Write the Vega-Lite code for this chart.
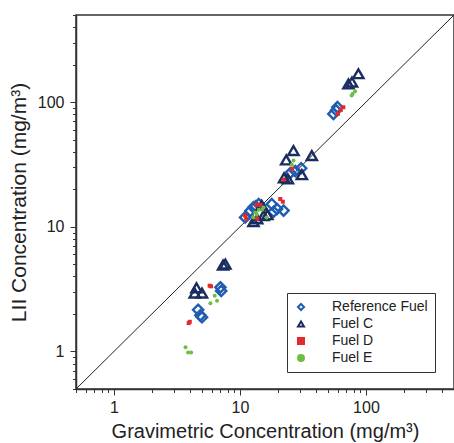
{
  "$schema": "https://vega.github.io/schema/vega-lite/v6.json",
  "width": 378,
  "height": 374,
  "autosize": {"type": "none"},
  "padding": {"left": 76, "top": 15, "right": 0, "bottom": 54},
  "background": "white",
  "config": {
    "view": {"stroke": "#333", "strokeWidth": 1.5},
    "font": "Liberation Sans",
    "axis": {
      "grid": false,
      "domainColor": "#333",
      "domainWidth": 1.5,
      "tickColor": "#333",
      "tickWidth": 1,
      "labelFont": "Liberation Sans",
      "labelFontSize": 16,
      "labelColor": "#222",
      "titleFont": "Liberation Sans",
      "titleFontSize": 20,
      "titleFontWeight": "normal",
      "titleColor": "#222"
    },
    "legend": {
      "title": null,
      "orient": "none",
      "legendX": 211,
      "legendY": 278,
      "strokeColor": "#333",
      "fillColor": "white",
      "padding": 7,
      "labelFont": "Liberation Sans",
      "labelFontSize": 14,
      "labelColor": "#222",
      "labelOffset": 24,
      "rowPadding": 3,
      "symbolStrokeWidth": 2,
      "symbolSize": 36
    }
  },
  "datasets": {
    "pts": [
      {"fuel": "Reference Fuel", "gx": 55.2, "ly": 80.5},
      {"fuel": "Reference Fuel", "gx": 59.4, "ly": 91.2},
      {"fuel": "Reference Fuel", "gx": 58, "ly": 86},
      {"fuel": "Reference Fuel", "gx": 25.1, "ly": 27.0},
      {"fuel": "Reference Fuel", "gx": 30.6, "ly": 29.5},
      {"fuel": "Reference Fuel", "gx": 27.5, "ly": 28},
      {"fuel": "Reference Fuel", "gx": 11.0, "ly": 11.9},
      {"fuel": "Reference Fuel", "gx": 12.1, "ly": 13.4},
      {"fuel": "Reference Fuel", "gx": 12.8, "ly": 14.3},
      {"fuel": "Reference Fuel", "gx": 14.1, "ly": 15.2},
      {"fuel": "Reference Fuel", "gx": 13.3, "ly": 14.6},
      {"fuel": "Reference Fuel", "gx": 17.9, "ly": 15.2},
      {"fuel": "Reference Fuel", "gx": 19.7, "ly": 13.9},
      {"fuel": "Reference Fuel", "gx": 22.2, "ly": 13.5},
      {"fuel": "Reference Fuel", "gx": 18.5, "ly": 13.2},
      {"fuel": "Reference Fuel", "gx": 7.0, "ly": 3.27},
      {"fuel": "Reference Fuel", "gx": 7.1, "ly": 3.06},
      {"fuel": "Reference Fuel", "gx": 4.66, "ly": 2.16},
      {"fuel": "Reference Fuel", "gx": 5.0, "ly": 1.88},
      {"fuel": "Reference Fuel", "gx": 4.85, "ly": 1.95},
      {"fuel": "Fuel C", "gx": 72.6, "ly": 140},
      {"fuel": "Fuel C", "gx": 77.5, "ly": 145},
      {"fuel": "Fuel C", "gx": 87.1, "ly": 169},
      {"fuel": "Fuel C", "gx": 26.6, "ly": 40.9},
      {"fuel": "Fuel C", "gx": 23.3, "ly": 34.4},
      {"fuel": "Fuel C", "gx": 37.2, "ly": 37.3},
      {"fuel": "Fuel C", "gx": 31.0, "ly": 26.2},
      {"fuel": "Fuel C", "gx": 22.4, "ly": 24.7},
      {"fuel": "Fuel C", "gx": 24.0, "ly": 24.2},
      {"fuel": "Fuel C", "gx": 12.8, "ly": 11.0},
      {"fuel": "Fuel C", "gx": 13.7, "ly": 11.6},
      {"fuel": "Fuel C", "gx": 15.4, "ly": 12.3},
      {"fuel": "Fuel C", "gx": 16.5, "ly": 12.5},
      {"fuel": "Fuel C", "gx": 14.9, "ly": 14.9},
      {"fuel": "Fuel C", "gx": 7.35, "ly": 4.93},
      {"fuel": "Fuel C", "gx": 7.66, "ly": 5.02},
      {"fuel": "Fuel C", "gx": 4.52, "ly": 3.24},
      {"fuel": "Fuel C", "gx": 4.38, "ly": 2.94},
      {"fuel": "Fuel C", "gx": 5.0, "ly": 2.94},
      {"fuel": "Fuel D", "gx": 59.8, "ly": 80.5},
      {"fuel": "Fuel D", "gx": 63.1, "ly": 86.7},
      {"fuel": "Fuel D", "gx": 66.2, "ly": 91},
      {"fuel": "Fuel D", "gx": 22.2, "ly": 23.9},
      {"fuel": "Fuel D", "gx": 25.9, "ly": 29.1},
      {"fuel": "Fuel D", "gx": 20.9, "ly": 16.7},
      {"fuel": "Fuel D", "gx": 21.9, "ly": 15.9},
      {"fuel": "Fuel D", "gx": 11.0, "ly": 12.3},
      {"fuel": "Fuel D", "gx": 11.2, "ly": 11.6},
      {"fuel": "Fuel D", "gx": 13.5, "ly": 15.0},
      {"fuel": "Fuel D", "gx": 14.5, "ly": 15.0},
      {"fuel": "Fuel D", "gx": 13.7, "ly": 11.6},
      {"fuel": "Fuel D", "gx": 5.75, "ly": 3.37},
      {"fuel": "Fuel D", "gx": 5.9, "ly": 3.33},
      {"fuel": "Fuel D", "gx": 3.92, "ly": 1.69},
      {"fuel": "Fuel D", "gx": 4.0, "ly": 1.73},
      {"fuel": "Fuel E", "gx": 78.5, "ly": 117},
      {"fuel": "Fuel E", "gx": 82, "ly": 122},
      {"fuel": "Fuel E", "gx": 77, "ly": 113},
      {"fuel": "Fuel E", "gx": 26.6, "ly": 34.0},
      {"fuel": "Fuel E", "gx": 25.8, "ly": 31.4},
      {"fuel": "Fuel E", "gx": 13.2, "ly": 13.0},
      {"fuel": "Fuel E", "gx": 14.1, "ly": 13.7},
      {"fuel": "Fuel E", "gx": 15.0, "ly": 13.7},
      {"fuel": "Fuel E", "gx": 12.8, "ly": 11.9},
      {"fuel": "Fuel E", "gx": 15.4, "ly": 14.3},
      {"fuel": "Fuel E", "gx": 16.3, "ly": 11.9},
      {"fuel": "Fuel E", "gx": 13.6, "ly": 12.5},
      {"fuel": "Fuel E", "gx": 6.31, "ly": 2.80},
      {"fuel": "Fuel E", "gx": 6.58, "ly": 2.55},
      {"fuel": "Fuel E", "gx": 5.83, "ly": 2.44},
      {"fuel": "Fuel E", "gx": 3.70, "ly": 1.08},
      {"fuel": "Fuel E", "gx": 3.88, "ly": 0.98},
      {"fuel": "Fuel E", "gx": 4.1, "ly": 0.98}
    ],
    "diag": [{"gx": 0.5, "ly": 0.5}, {"gx": 500, "ly": 500}]
  },
  "encoding": {
    "x": {
      "field": "gx", "type": "quantitative",
      "scale": {"type": "log", "domain": [0.5, 500], "nice": false},
      "axis": {
        "title": "Gravimetric Concentration (mg/m³)",
        "values": [0.5,0.6,0.7,0.8,0.9,1,2,3,4,5,6,7,8,9,10,20,30,40,50,60,70,80,90,100,200,300,400,500],
        "labelExpr": "datum.value == 1 || datum.value == 10 || datum.value == 100 ? datum.value + '' : ''",
        "tickSize": {"condition": {"test": "datum.value == 1 || datum.value == 10 || datum.value == 100", "value": 6}, "value": 3.5},
        "labelPadding": 4,
        "titlePadding": 6,
        "labelFlush": false,
        "labelOverlap": false
      }
    },
    "y": {
      "field": "ly", "type": "quantitative",
      "scale": {"type": "log", "domain": [0.5, 500], "nice": false},
      "axis": {
        "title": "LII Concentration (mg/m³)",
        "values": [0.5,0.6,0.7,0.8,0.9,1,2,3,4,5,6,7,8,9,10,20,30,40,50,60,70,80,90,100,200,300,400,500],
        "labelExpr": "datum.value == 1 || datum.value == 10 || datum.value == 100 ? datum.value + '' : ''",
        "tickSize": {"condition": {"test": "datum.value == 1 || datum.value == 10 || datum.value == 100", "value": 6}, "value": 3.5},
        "labelPadding": 6,
        "titlePadding": 8,
        "titleFontSize": 21,
        "labelFlush": false,
        "labelOverlap": false
      }
    }
  },
  "layer": [
    {
      "data": {"name": "diag"},
      "mark": {"type": "line", "color": "#222", "strokeWidth": 1, "clip": true},
      "encoding": {}
    },
    {
      "data": {"name": "pts"},
      "transform": [{"filter": "datum.fuel == 'Reference Fuel' || datum.fuel == 'Fuel C'"}],
      "mark": {"type": "point", "filled": false, "opacity": 1, "size": 105, "strokeWidth": 2.4, "clip": true},
      "encoding": {
        "shape": {
          "field": "fuel", "type": "nominal",
          "scale": {"domain": ["Reference Fuel", "Fuel C", "Fuel D", "Fuel E"], "range": ["diamond", "triangle-up", "square", "circle"]},
          "legend": {
            "encode": {
              "symbols": {"update": {
                "size": {"signal": "datum.value == 'Fuel D' || datum.value == 'Fuel E' ? 12 : 36"},
                "strokeWidth": {"signal": "datum.value == 'Fuel D' || datum.value == 'Fuel E' ? 0 : 2"}
              }}
            }
          }
        },
        "stroke": {
          "field": "fuel", "type": "nominal",
          "scale": {"domain": ["Reference Fuel", "Fuel C", "Fuel D", "Fuel E"], "range": ["#1f5db0", "#1b2c60", "#e32a2a", "#6cbf42"]}
        }
      }
    },
    {
      "data": {"name": "pts"},
      "transform": [{"filter": "datum.fuel == 'Fuel D' || datum.fuel == 'Fuel E'"}],
      "mark": {"type": "point", "filled": true, "opacity": 1, "size": 16, "strokeWidth": 0, "clip": true},
      "encoding": {
        "shape": {"field": "fuel", "type": "nominal"},
        "fill": {
          "field": "fuel", "type": "nominal",
          "scale": {"domain": ["Reference Fuel", "Fuel C", "Fuel D", "Fuel E"], "range": ["transparent", "transparent", "#e32a2a", "#6cbf42"]},
          "legend": {
            "encode": {
              "symbols": {"update": {
                "size": {"signal": "datum.value == 'Fuel D' || datum.value == 'Fuel E' ? 12 : 36"},
                "strokeWidth": {"signal": "datum.value == 'Fuel D' || datum.value == 'Fuel E' ? 0 : 2"}
              }}
            }
          }
        }
      }
    }
  ]
}
